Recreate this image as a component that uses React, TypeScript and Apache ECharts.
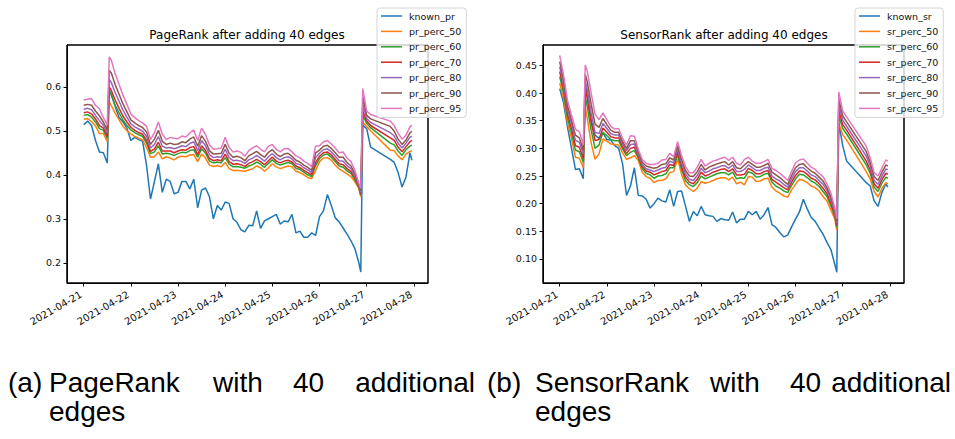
import React, { useEffect, useRef } from "react";
import * as echarts from "echarts";

// hours since 2021-04-21 00:00
const HOURS = [
  0, 2, 4, 6, 8, 10, 12, 13, 14, 16,
  18, 20, 22, 24, 26, 28, 30, 32, 34, 36,
  38, 40, 42, 44, 46, 48, 50, 52, 54, 56,
  58, 60, 62, 64, 66, 68, 70, 72, 74, 76,
  78, 80, 82, 84, 86, 88, 90, 92, 94, 96,
  98, 100, 102, 104, 106, 108, 110, 112, 114, 116,
  118, 120, 122, 124, 126, 128, 130, 132, 134, 136,
  138, 140, 141, 142, 144, 146, 156, 158, 160, 162,
  164, 166, 167,
];

const DAY_TICKS = [0, 24, 48, 72, 96, 120, 144, 168];
const DAY_LABELS = [
  "2021-04-21", "2021-04-22", "2021-04-23", "2021-04-24",
  "2021-04-25", "2021-04-26", "2021-04-27", "2021-04-28",
];

const PR_TICKS = [0.2, 0.3, 0.4, 0.5, 0.6];
const SR_TICKS = [0.1, 0.15, 0.2, 0.25, 0.3, 0.35, 0.4, 0.45];

const PR_NAMES = ["known_pr", "pr_perc_50", "pr_perc_60", "pr_perc_70", "pr_perc_80", "pr_perc_90", "pr_perc_95"];
const SR_NAMES = ["known_sr", "sr_perc_50", "sr_perc_60", "sr_perc_70", "sr_perc_80", "sr_perc_90", "sr_perc_95"];
const COLORS = ["#1f77b4", "#ff7f0e", "#2ca02c", "#d62728", "#9467bd", "#8c564b", "#e377c2"];

const KNOWN_PR = [
  .514, .522, .512, .478, .452, .45, .427, .592, .583, .555,
  .53, .52, .506, .478, .485, .48, .476, .42, .345, .385,
  .425, .36, .39, .385, .357, .36, .385, .385, .368, .39,
  .325, .365, .37, .35, .3, .33, .32, .338, .335, .3,
  .292, .275, .27, .285, .284, .318, .278, .295, .3, .305,
  .31, .288, .295, .293, .31, .268, .272, .258, .258, .268,
  .262, .305, .318, .355, .33, .302, .293, .279, .265, .25,
  .232, .2, .179, .513, .505, .463, .435, .428, .405, .372,
  .395, .45, .433,
];
const PR_PERC_50 = [
  .526, .528, .521, .511, .494, .494, .475, .566, .558, .54,
  .525, .51, .5, .493, .487, .483, .479, .462, .44, .441,
  .452, .436, .441, .438, .434, .44, .442, .441, .445, .446,
  .43, .447, .438, .422, .419, .421, .418, .428, .414, .41,
  .41, .409, .408, .411, .414, .42, .416, .408, .416, .425,
  .418, .414, .417, .42, .418, .408, .405, .4, .394, .391,
  .41, .43, .438, .439, .433, .422, .413, .408, .402, .396,
  .384, .369, .35, .52, .51, .5, .456, .455, .443, .434,
  .447, .453, .455,
];
const PR_PERC_60 = [
  .535, .537, .531, .52, .505, .501, .483, .59, .582, .558,
  .541, .524, .512, .502, .496, .491, .487, .472, .448, .452,
  .466, .447, .449, .447, .444, .448, .451, .45, .455, .457,
  .44, .459, .449, .431, .427, .429, .427, .439, .424, .418,
  .419, .417, .415, .42, .423, .429, .424, .417, .426, .434,
  .426, .422, .425, .428, .425, .415, .412, .406, .4, .396,
  .421, .437, .445, .447, .44, .43, .42, .417, .409, .403,
  .389, .371, .354, .535, .517, .507, .472, .468, .454, .444,
  .457, .465, .467,
];
const PR_PERC_70 = [
  .541, .543, .538, .527, .512, .506, .488, .6, .592, .57,
  .551, .533, .52, .508, .501, .496, .492, .478, .453, .459,
  .474, .454, .454, .454, .45, .454, .457, .456, .462, .464,
  .446, .466, .455, .437, .432, .434, .432, .447, .43, .424,
  .425, .423, .419, .426, .43, .435, .43, .423, .432, .44,
  .431, .427, .431, .433, .429, .42, .416, .41, .405, .4,
  .428, .442, .45, .452, .445, .435, .425, .423, .414, .407,
  .393, .373, .356, .545, .522, .512, .484, .478, .463, .452,
  .464, .475, .478,
];
const PR_PERC_80 = [
  .549, .551, .548, .535, .523, .513, .495, .617, .61, .587,
  .567, .547, .531, .516, .509, .504, .499, .487, .461, .469,
  .487, .465, .461, .462, .459, .462, .466, .464, .471, .475,
  .455, .478, .466, .446, .439, .441, .44, .458, .439, .432,
  .433, .431, .426, .434, .438, .444, .438, .431, .441, .448,
  .439, .434, .439, .441, .436, .426, .423, .416, .411, .405,
  .439, .449, .457, .459, .452, .442, .432, .431, .421, .414,
  .398, .375, .36, .56, .528, .519, .496, .488, .472, .461,
  .472, .485, .488,
];
const PR_PERC_90 = [
  .558, .56, .558, .545, .534, .52, .502, .637, .632, .605,
  .583, .561, .543, .525, .518, .512, .507, .497, .469, .481,
  .501, .476, .469, .472, .469, .47, .475, .473, .481, .486,
  .465, .489, .476, .455, .447, .448, .449, .469, .449, .44,
  .442, .439, .432, .443, .448, .453, .446, .44, .451, .457,
  .447, .441, .447, .449, .442, .433, .429, .422, .417, .41,
  .45, .456, .465, .467, .46, .45, .44, .44, .428, .42,
  .403, .377, .364, .578, .535, .527, .51, .499, .481, .469,
  .479, .495, .499,
];
const PR_PERC_95 = [
  .57, .572, .573, .558, .55, .53, .513, .668, .661, .63,
  .605, .581, .56, .538, .53, .523, .518, .51, .48, .496,
  .52, .492, .48, .485, .483, .482, .488, .486, .495, .502,
  .478, .506, .491, .468, .458, .459, .461, .485, .462, .452,
  .454, .451, .442, .455, .461, .466, .458, .452, .465, .469,
  .458, .452, .459, .46, .452, .443, .439, .431, .426, .418,
  .465, .466, .475, .478, .47, .461, .45, .452, .438, .43,
  .41, .38, .369, .596, .545, .537, .522, .512, .494, .481,
  .49, .509, .513,
];

const KNOWN_SR = [
  .408, .382, .338, .3, .262, .263, .245, .42, .398, .352,
  .324, .318, .328, .316, .315, .305, .3, .272, .215, .232,
  .265, .215, .214, .208, .192, .2, .21, .205, .203, .225,
  .195, .222, .223, .196, .168, .186, .178, .195, .18, .178,
  .177, .168, .173, .171, .17, .185, .165, .172, .172, .186,
  .18, .186, .172, .18, .193, .162, .157, .148, .14, .143,
  .158, .172, .185, .208, .19, .175, .168, .156, .145, .13,
  .117, .09, .076, .346, .305, .277, .238, .232, .205, .195,
  .221, .236, .23,
];
const SR_PERC_50 = [
  .418, .39, .345, .318, .284, .282, .265, .375, .355, .31,
  .28, .29, .317, .313, .308, .307, .306, .292, .28, .283,
  .287, .278, .257, .249, .246, .238, .242, .242, .245, .256,
  .258, .281, .253, .234, .227, .222, .228, .24, .237, .239,
  .242, .245, .247, .247, .243, .248, .236, .239, .234, .249,
  .248, .24, .241, .245, .246, .23, .223, .219, .214, .212,
  .225, .235, .244, .242, .238, .232, .229, .223, .213, .205,
  .188, .172, .152, .345, .325, .315, .258, .245, .222, .212,
  .228, .238, .236,
];
const SR_PERC_60 = [
  .43, .40, .355, .328, .297, .294, .275, .394, .376, .333,
  .3, .306, .329, .323, .316, .314, .314, .299, .287, .293,
  .296, .283, .263, .255, .252, .246, .25, .251, .254, .265,
  .265, .289, .262, .242, .234, .231, .238, .25, .245, .248,
  .251, .254, .256, .256, .252, .257, .245, .247, .246, .258,
  .255, .248, .249, .253, .255, .239, .232, .228, .223, .22,
  .233, .245, .253, .252, .247, .241, .237, .231, .222, .213,
  .196, .177, .157, .359, .336, .326, .27, .255, .23, .222,
  .237, .248, .246,
];
const SR_PERC_70 = [
  .439, .408, .362, .336, .305, .302, .282, .407, .391, .348,
  .314, .316, .337, .329, .321, .319, .319, .303, .291, .3,
  .302, .286, .267, .259, .257, .252, .255, .258, .26, .271,
  .269, .294, .267, .248, .239, .236, .244, .257, .25, .253,
  .257, .259, .262, .263, .258, .263, .252, .252, .253, .264,
  .26, .254, .254, .258, .26, .244, .239, .234, .229, .225,
  .239, .251, .259, .258, .253, .246, .243, .236, .228, .218,
  .201, .18, .161, .369, .343, .333, .277, .261, .236, .228,
  .244, .255, .253,
];
const SR_PERC_80 = [
  .448, .415, .37, .343, .315, .311, .29, .421, .406, .364,
  .329, .327, .345, .336, .327, .324, .324, .308, .296, .307,
  .308, .29, .271, .263, .261, .258, .261, .264, .266, .277,
  .274, .3, .273, .254, .244, .242, .251, .264, .256, .259,
  .263, .265, .268, .269, .264, .27, .258, .258, .262, .27,
  .265, .26, .26, .264, .266, .25, .245, .241, .235, .23,
  .245, .258, .265, .265, .259, .252, .249, .242, .235, .224,
  .207, .184, .165, .379, .351, .34, .286, .268, .242, .235,
  .25, .263, .261,
];
const SR_PERC_90 = [
  .457, .423, .377, .351, .324, .319, .297, .434, .421, .38,
  .344, .338, .354, .343, .333, .329, .329, .312, .3, .314,
  .314, .294, .275, .268, .266, .264, .266, .271, .272, .283,
  .279, .305, .28, .26, .25, .249, .258, .271, .261, .266,
  .269, .272, .274, .276, .27, .276, .265, .263, .27, .276,
  .271, .266, .266, .269, .273, .257, .252, .247, .241, .235,
  .251, .265, .271, .272, .265, .259, .255, .248, .241, .229,
  .212, .188, .168, .389, .359, .348, .294, .275, .249, .242,
  .257, .27, .268,
];
const SR_PERC_95 = [
  .468, .432, .386, .36, .335, .33, .306, .451, .44, .4,
  .362, .352, .364, .352, .34, .335, .336, .318, .306, .323,
  .322, .298, .28, .273, .271, .271, .273, .279, .28, .291,
  .285, .312, .287, .267, .256, .256, .266, .28, .268, .273,
  .277, .279, .282, .284, .278, .284, .273, .27, .28, .284,
  .277, .273, .273, .276, .28, .264, .26, .255, .249, .242,
  .258, .274, .279, .281, .273, .266, .262, .255, .249, .236,
  .219, .192, .173, .402, .368, .357, .304, .283, .256, .25,
  .265, .279, .277,
];

const PR_SERIES = [KNOWN_PR, PR_PERC_50, PR_PERC_60, PR_PERC_70, PR_PERC_80, PR_PERC_90, PR_PERC_95];
const SR_SERIES = [KNOWN_SR, SR_PERC_50, SR_PERC_60, SR_PERC_70, SR_PERC_80, SR_PERC_90, SR_PERC_95];

const FONT = "DejaVu Sans";
const CAP_FONT = "28px 'Liberation Sans', Arial, sans-serif";

const GRIDS = [
  { left: 67, top: 45, width: 361, height: 238 },
  { left: 543, top: 45, width: 361, height: 238 },
];

function makeXAxis(gridIndex: number) {
  return {
    gridIndex,
    type: "value",
    position: "bottom",
    min: -8.5,
    max: 175.2,
    splitLine: { show: false },
    axisLine: { show: true, onZero: false, lineStyle: { color: "#000", width: 1 } },
    axisTick: { show: true, customValues: DAY_TICKS, length: 3.5, lineStyle: { color: "#000", width: 1 } },
    axisLabel: {
      customValues: DAY_TICKS,
      rotate: 30,
      margin: 9,
      fontSize: 10,
      fontFamily: FONT,
      color: "#111",
      padding: [0, 3, 0, 0],
      formatter: (v: number) => DAY_LABELS[Math.round(v / 24)] ?? "",
    },
  };
}

function makeYAxis(gridIndex: number, min: number, max: number, ticks: number[], digits: number) {
  return {
    gridIndex,
    type: "value",
    position: "left",
    min,
    max,
    splitLine: { show: false },
    axisLine: { show: true, onZero: false, lineStyle: { color: "#000", width: 1 } },
    axisTick: { show: true, customValues: ticks, length: 3.5, lineStyle: { color: "#000", width: 1 } },
    axisLabel: {
      customValues: ticks,
      margin: 6,
      fontSize: 9.5,
      fontFamily: FONT,
      color: "#111",
      formatter: (v: number) => v.toFixed(digits),
    },
  };
}

function makeSeries(names: string[], values: number[][], idx: number) {
  return names.map((name, i) => ({
    name,
    type: "line",
    xAxisIndex: idx,
    yAxisIndex: idx,
    data: HOURS.map((h, j) => [h, values[i][j]]),
    symbol: "none",
    showSymbol: false,
    silent: true,
    lineStyle: { width: 1.5, color: COLORS[i] },
    itemStyle: { color: COLORS[i] },
    emphasis: { disabled: true },
    z: 2,
  }));
}

function makeLegend(names: string[], left: number) {
  return {
    data: names,
    left,
    top: 8,
    orient: "vertical",
    icon: "rect",
    itemWidth: 21,
    itemHeight: 1.5,
    itemGap: 3.4,
    padding: [2, 5, 3, 4],
    backgroundColor: "rgba(255,255,255,0.8)",
    borderColor: "#d4d4d4",
    borderWidth: 1,
    borderRadius: 3,
    selectedMode: false,
    z: 6,
    textStyle: { fontSize: 9.5, lineHeight: 12, fontFamily: FONT, color: "#111", padding: [0, 0, 0, 2] },
  };
}

function word(text: string, x: number, y: number, align = "left") {
  return {
    type: "text",
    x,
    y,
    silent: true,
    style: { text, font: CAP_FONT, fill: "#000", align, verticalAlign: "middle" },
  };
}

function frame(g: { left: number; top: number; width: number; height: number }) {
  return {
    type: "rect",
    silent: true,
    z: 3,
    shape: { x: g.left, y: g.top, width: g.width, height: g.height },
    style: { fill: "none", stroke: "#000", lineWidth: 1 },
  };
}

export default function App() {
  const ref = useRef<HTMLDivElement>(null);

  useEffect(() => {
    const el = ref.current;
    if (!el) return;
    document.body.style.margin = "0";
    const r = el.getBoundingClientRect();
    if (r.left !== 0 || r.top !== 0) {
      el.style.transform = `translate(${-r.left}px, ${-r.top}px)`;
    }
    const chart = echarts.init(el, null, { renderer: "svg" });
    const option = {
      animation: false,
      backgroundColor: "#fff",
      tooltip: { show: false },
      grid: GRIDS.map((g) => ({
        ...g,
        show: true,
        borderColor: "#000",
        borderWidth: 1,
        backgroundColor: "#fff",
      })),
      xAxis: [makeXAxis(0), makeXAxis(1)],
      yAxis: [
        makeYAxis(0, 0.154, 0.695, PR_TICKS, 1),
        makeYAxis(1, 0.0565, 0.487, SR_TICKS, 2),
      ],
      legend: [makeLegend(PR_NAMES, 377), makeLegend(SR_NAMES, 855)],
      series: [...makeSeries(PR_NAMES, PR_SERIES, 0), ...makeSeries(SR_NAMES, SR_SERIES, 1)],
      graphic: [
        frame(GRIDS[0]),
        frame(GRIDS[1]),
        { type: "text", x: 247, y: 35, silent: true, style: { text: "PageRank after adding 40 edges", font: `12px '${FONT}'`, fill: "#000", align: "center", verticalAlign: "middle" } },
        { type: "text", x: 724, y: 35, silent: true, style: { text: "SensorRank after adding 40 edges", font: `12px '${FONT}'`, fill: "#000", align: "center", verticalAlign: "middle" } },
        word("(a)", 8, 382),
        word("PageRank", 49, 382),
        word("with", 213, 382),
        word("40", 293, 382),
        word("additional", 475, 382, "right"),
        word("edges", 49, 411),
        word("(b)", 487, 382),
        word("SensorRank", 535, 382),
        word("with", 710, 382),
        word("40", 790, 382),
        word("additional", 951, 382, "right"),
        word("edges", 535, 411),
      ],
    };
    chart.setOption(option as any);
    return () => chart.dispose();
  }, []);

  return (
    <div
      ref={ref}
      style={{ position: "relative", width: 955, height: 439, background: "#fff" }}
    />
  );
}
